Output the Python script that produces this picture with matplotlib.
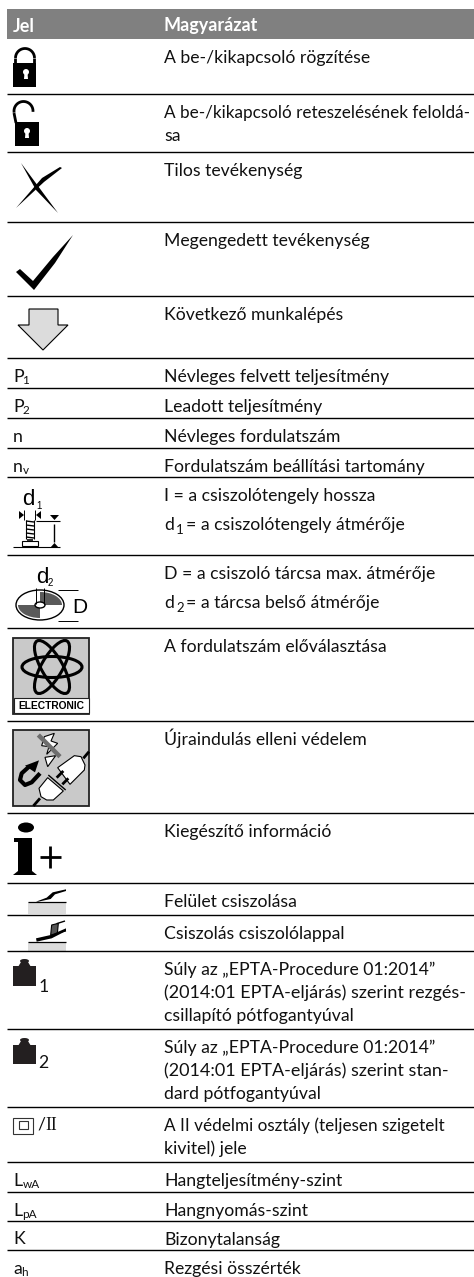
import numpy as np
import matplotlib
matplotlib.use("Agg")
import matplotlib.pyplot as plt
from matplotlib.patches import Rectangle, Ellipse, Polygon

plt.rcParams["font.family"] = ["Lato", "Roboto", "DejaVu Sans"]

# table data
header = ["Jel", "Magyarázat"]
row_lines = [39, 94, 152, 222, 296, 358, 388, 418, 448, 477, 555, 628, 721, 813,
             883, 915, 951, 1029, 1107, 1162, 1192, 1221, 1250]
descriptions = [
    ["A be-/kikapcsoló rögzítése"],
    ["A be-/kikapcsoló reteszelésének feloldá-", "sa"],
    ["Tilos tevékenység"],
    ["Megengedett tevékenység"],
    ["Következő munkalépés"],
    ["Névleges felvett teljesítmény"],
    ["Leadott teljesítmény"],
    ["Névleges fordulatszám"],
    ["Fordulatszám beállítási tartomány"],
    ["I = a csiszolótengely hossza"],
    ["D = a csiszoló tárcsa max. átmérője"],
    ["A fordulatszám előválasztása"],
    ["Újraindulás elleni védelem"],
    ["Kiegészítő információ"],
    ["Felület csiszolása"],
    ["Csiszolás csiszolólappal"],
    ["Súly az „EPTA-Procedure 01:2014”", "(2014:01 EPTA-eljárás) szerint rezgés-", "csillapító pótfogantyúval"],
    ["Súly az „EPTA-Procedure 01:2014”", "(2014:01 EPTA-eljárás) szerint stan-", "dard pótfogantyúval"],
    ["A II védelmi osztály (teljesen szigetelt", "kivitel) jele"],
    ["Hangteljesítmény-szint"],
    ["Hangnyomás-szint"],
    ["Bizonytalanság"],
    ["Rezgési összérték"],
]
symbols = {5: ("P", "1"), 6: ("P", "2"), 7: ("n", ""), 8: ("n", "v"),
           19: ("L", "wA"), 20: ("L", "pA"), 21: ("K", ""), 22: ("a", "h")}
second_lines = {9: ("d", "1", "= a csiszolótengely átmérője"),
                10: ("d", "2", "= a tárcsa belső átmérője")}

FS = 12.7
# long lines that run wider in this font than in the original
line_sizes = {
    "A be-/kikapcsoló reteszelésének feloldá-": 12.3,
    "A II védelmi osztály (teljesen szigetelt": 12.3,
    "(2014:01 EPTA-eljárás) szerint rezgés-": 13.0,
    "(2014:01 EPTA-eljárás) szerint stan-": 13.0,
}
DARK = "#111111"

fig = plt.figure(figsize=(4.74, 12.77), dpi=100)
ax = fig.add_axes([0, 0, 1, 1])
ax.set_xlim(0, 474)
ax.set_ylim(1277, 0)
ax.axis("off")


def line(pts, lw=1.0, color="black", cap="butt"):
    xs, ys = zip(*pts)
    ax.plot(xs, ys, color=color, lw=lw, solid_capstyle=cap, solid_joinstyle="round")


def poly(pts, fc="black", ec="none", lw=0.8):
    ax.add_patch(Polygon(pts, closed=True, fc=fc, ec=ec, lw=lw))


def z(pts, x0, y0):
    # zoomed crop coordinates to picture pixels
    return [(x0 + x / 3, y0 + y / 3) for x, y in pts]


def keyhole(cx, cy):
    ax.add_patch(Ellipse((cx, cy - 1), 6, 6, fc="white", ec="none"))
    poly([(cx - 1.5, cy), (cx + 1.5, cy), (cx + 2, cy + 6), (cx - 2, cy + 6)], fc="white")


def shackle(cx, cy, r, start, end):
    t = np.radians(np.linspace(start, end, 31))
    line(list(zip(cx + r * np.cos(t), cy - r * np.sin(t))), 2)


def lock_closed():
    ax.add_patch(Rectangle((13, 63), 23, 24, fc="black", ec="none"))
    keyhole(26, 73)
    shackle(25, 58, 9.5, 0, 180)
    line([(15.5, 58), (15.5, 64)], 2)
    line([(34.5, 58), (34.5, 64)], 2)


def lock_open():
    ax.add_patch(Rectangle((15, 122), 24, 24, fc="black", ec="none"))
    keyhole(27, 132)
    shackle(23.5, 111, 9.5, -5, 190)
    line([(14, 113), (16, 123)], 2)


def cross():
    poly([(21, 163), (38, 186), (58, 213), (36, 190)])
    poly([(62, 168), (44, 182), (16, 208), (42, 178), (60, 167)])


def check():
    poly([(16, 272), (20, 269), (33, 281), (53, 257), (73, 235), (55, 263), (34, 290)])


def arrow():
    poly([(29, 309), (58, 309), (58, 325), (68, 325), (43, 350), (18, 325), (29, 325)],
         fc="#dcdcdc", ec="black", lw=0.8)


def shaft_icon():
    ax.text(22, 505, "d", fontsize=16, va="baseline", color="black", family="Liberation Sans")
    ax.text(36, 509, "1", fontsize=7, va="baseline", color="black", family="Liberation Sans")
    poly([(19, 511), (24, 515), (19, 519)])
    poly([(41, 511), (36, 515), (41, 519)])
    line([(24.5, 510), (24.5, 520)], 0.7)
    line([(35.5, 510), (35.5, 520)], 0.7)
    line([(26, 520), (26, 539)], 0.8)
    line([(34, 520), (34, 539)], 0.8)
    for y in (521, 525, 529, 533, 537):
        line([(26, y), (34, y + 1)], 1)
    ax.add_patch(Rectangle((27, 539), 6, 2, fc="#333333", ec="none"))
    ax.add_patch(Rectangle((22.5, 541), 16, 5, fc="white", ec="black", lw=0.8))
    line([(13, 546.5), (60, 546.5)], 0.8)
    line([(36, 520.5), (60, 520.5)], 0.8)
    line([(54.5, 524), (54.5, 542)], 1)
    poly([(50, 515), (59, 515), (54.5, 520)])
    poly([(50, 548), (59, 548), (54.5, 543)])


def disc_icon():
    ax.text(36, 583, "d", fontsize=16, va="baseline", color="black", family="Liberation Sans")
    ax.text(48, 586, "2", fontsize=7, va="baseline", color="black", family="Liberation Sans")
    ax.add_patch(Ellipse((40, 605), 48, 30, fc="white", ec="black", lw=1))
    for clip in ((40, 590, 24, 15), (16, 605, 24, 15)):
        e = Ellipse((40, 605), 44, 26, fc="#5a5a5a", ec="none", hatch="xxxxxx", lw=0)
        ax.add_patch(e)
        e.set_clip_path(Rectangle(clip[:2], clip[2], clip[3], transform=ax.transData))
    ax.add_patch(Ellipse((40, 605), 10, 6, fc="white", ec="black", lw=1))
    line([(36, 588), (36, 604)], 0.7)
    line([(44, 588), (44, 604)], 0.7)
    line([(58, 590), (78, 590)], 0.7)
    line([(58, 621), (78, 621)], 0.7)
    ax.text(72, 613, "D", fontsize=15, va="baseline", color="black", family="Liberation Sans")


def electronic_icon():
    ax.add_patch(Rectangle((13.5, 637.5), 76, 76, fc="#c9c9c9", ec="#222222", lw=1.3))
    for angle in (0, 60, 120):
        ax.add_patch(Ellipse((52, 667), 60, 21, angle=angle, fc="none", ec="black", lw=2.2))
    ax.add_patch(Rectangle((14, 698), 75, 15, fc="white", ec="#222222", lw=0.8))
    ax.text(51.5, 709, "ELECTRONIC", fontsize=7.4, family=["Liberation Sans", "DejaVu Sans"],
            weight="bold", ha="center", va="baseline", color="black")


def restart_icon():
    x0, y0 = 5, 725
    ax.add_patch(Rectangle((13.5, 730), 76, 76, fc="#c9c9c9", ec="#222222", lw=1.3))
    # flash, struck through
    poly(z([(118, 35), (148, 25), (138, 48), (158, 55), (125, 88), (132, 65), (110, 62)], x0, y0),
         fc="white", ec="black")
    poly(z([(120, 97), (152, 92), (128, 125)], x0, y0), fc="white", ec="black")
    line(z([(100, 30), (165, 95)], x0, y0), 3.2, "#6e6e6e")
    # magnet
    line(z([(72, 125), (50, 145), (45, 165), (60, 180), (80, 172), (105, 145)], x0, y0), 3)
    poly(z([(60, 122), (102, 106), (90, 142)], x0, y0))
    # plugs
    line(z([(235, 100), (252, 80)], x0, y0), 2)
    poly(z([(158, 128), (208, 92), (228, 95), (240, 120), (238, 135), (195, 178)], x0, y0),
         fc="white", ec="black")
    line(z([(155, 158), (175, 138)], x0, y0), 2)
    line(z([(172, 178), (190, 160)], x0, y0), 2)
    line(z([(105, 220), (85, 243)], x0, y0), 2)
    poly(z([(128, 158), (175, 198), (145, 225), (125, 225), (108, 215), (102, 190)], x0, y0),
         fc="white", ec="black")
    line(z([(130, 150), (182, 195)], x0, y0), 1)


def info_icon():
    ax.add_patch(Ellipse((26, 827.5), 16, 10, fc="black", ec="none"))
    poly([(14, 838), (32, 838), (32, 871), (37, 875), (13, 875), (18, 871), (18, 842), (14, 842)])
    line([(40, 857), (61, 857)], 2)
    line([(50.5, 846), (50.5, 868)], 2)


def surface_icon():
    x0, y0 = 20, 885
    ax.add_patch(Rectangle((28, 902), 38, 12, fc="#dcdcdc", ec="none"))
    line([(28, 901.5), (66, 901.5)], 0.9)
    poly(z([(48, 50), (80, 38), (98, 22), (138, 13), (138, 18), (105, 28), (92, 42), (55, 50)], x0, y0))


def flap_icon():
    x0, y0 = 20, 885
    ax.add_patch(Rectangle((28, 942), 38, 9, fc="#dcdcdc", ec="none"))
    line([(28, 941.5), (66, 941.5)], 0.9)
    poly(z([(92, 150), (95, 120), (115, 115), (112, 146)], x0, y0), fc="#555555", ec="black")
    poly(z([(48, 160), (92, 150), (138, 130), (138, 138), (95, 160), (50, 170)], x0, y0))
    line(z([(110, 116), (135, 108)], x0, y0), 1)
    line(z([(110, 145), (138, 138)], x0, y0), 0.7)


def weight_icon(knob_top, body_top, body_bottom, digit, xdigit, ydigit):
    ax.add_patch(Rectangle((13, body_top), 23, body_bottom - body_top, fc="#231f20", ec="none"))
    poly([(18, body_top + 1), (31, body_top + 1), (28, knob_top + 3), (21, knob_top + 3)], fc="#231f20")
    ax.add_patch(Ellipse((24.5, knob_top + 2), 9, 4, fc="#231f20", ec="none"))
    ax.text(xdigit, ydigit, digit, fontsize=FS, va="baseline", color=DARK)


def class2_icon():
    ax.add_patch(Rectangle((13.5, 1117.5), 20, 16, fc="white", ec="#333333", lw=0.8))
    ax.add_patch(Rectangle((19, 1121), 9, 8, fc="white", ec="#333333", lw=0.8))
    ax.text(37, 1130, "/", fontsize=FS, va="baseline", color=DARK)
    ax.text(45, 1130, "II", fontsize=FS, family=["Liberation Serif"], va="baseline", color=DARK)


# header band and rules
ax.add_patch(Rectangle((7, 9), 467, 30, fc="#808080", ec="none"))
ax.text(13, 31.5, header[0], color="white", fontsize=13, weight="bold", va="baseline")
ax.text(164, 31.5, header[1], color="white", fontsize=13, weight="bold", va="baseline")
ax.hlines(row_lines[1:], 7, 474, color="black", lw=1.0)

# symbols written as text
for i, (base, sub) in symbols.items():
    y = row_lines[i] + 23.5
    ax.text(13, y, base, fontsize=FS, va="baseline", color=DARK)
    if sub:
        ax.text(22.5 if base != "a" else 21.5, y + 3, sub, fontsize=8.5, va="baseline", color=DARK)

# descriptions
for i, lines in enumerate(descriptions):
    y = row_lines[i] + 24
    for j, s in enumerate(lines):
        ax.text(164, y + j * 23, s, fontsize=line_sizes.get(s, FS), va="baseline", color=DARK)
for i, (base, sub, rest) in second_lines.items():
    y = row_lines[i] + 53
    ax.text(164, y, base, fontsize=FS, va="baseline", color=DARK)
    ax.text(176, y + 4, sub, fontsize=9.5, va="baseline", color=DARK)
    ax.text(186, y, rest, fontsize=FS, va="baseline", color=DARK)

lock_closed()
lock_open()
cross()
check()
arrow()
shaft_icon()
disc_icon()
electronic_icon()
restart_icon()
info_icon()
surface_icon()
flap_icon()
weight_icon(959, 966, 986, "1", 39, 992)
weight_icon(1038, 1045, 1064, "2", 38, 1068)
class2_icon()

fig.savefig("out.png", dpi=100)
